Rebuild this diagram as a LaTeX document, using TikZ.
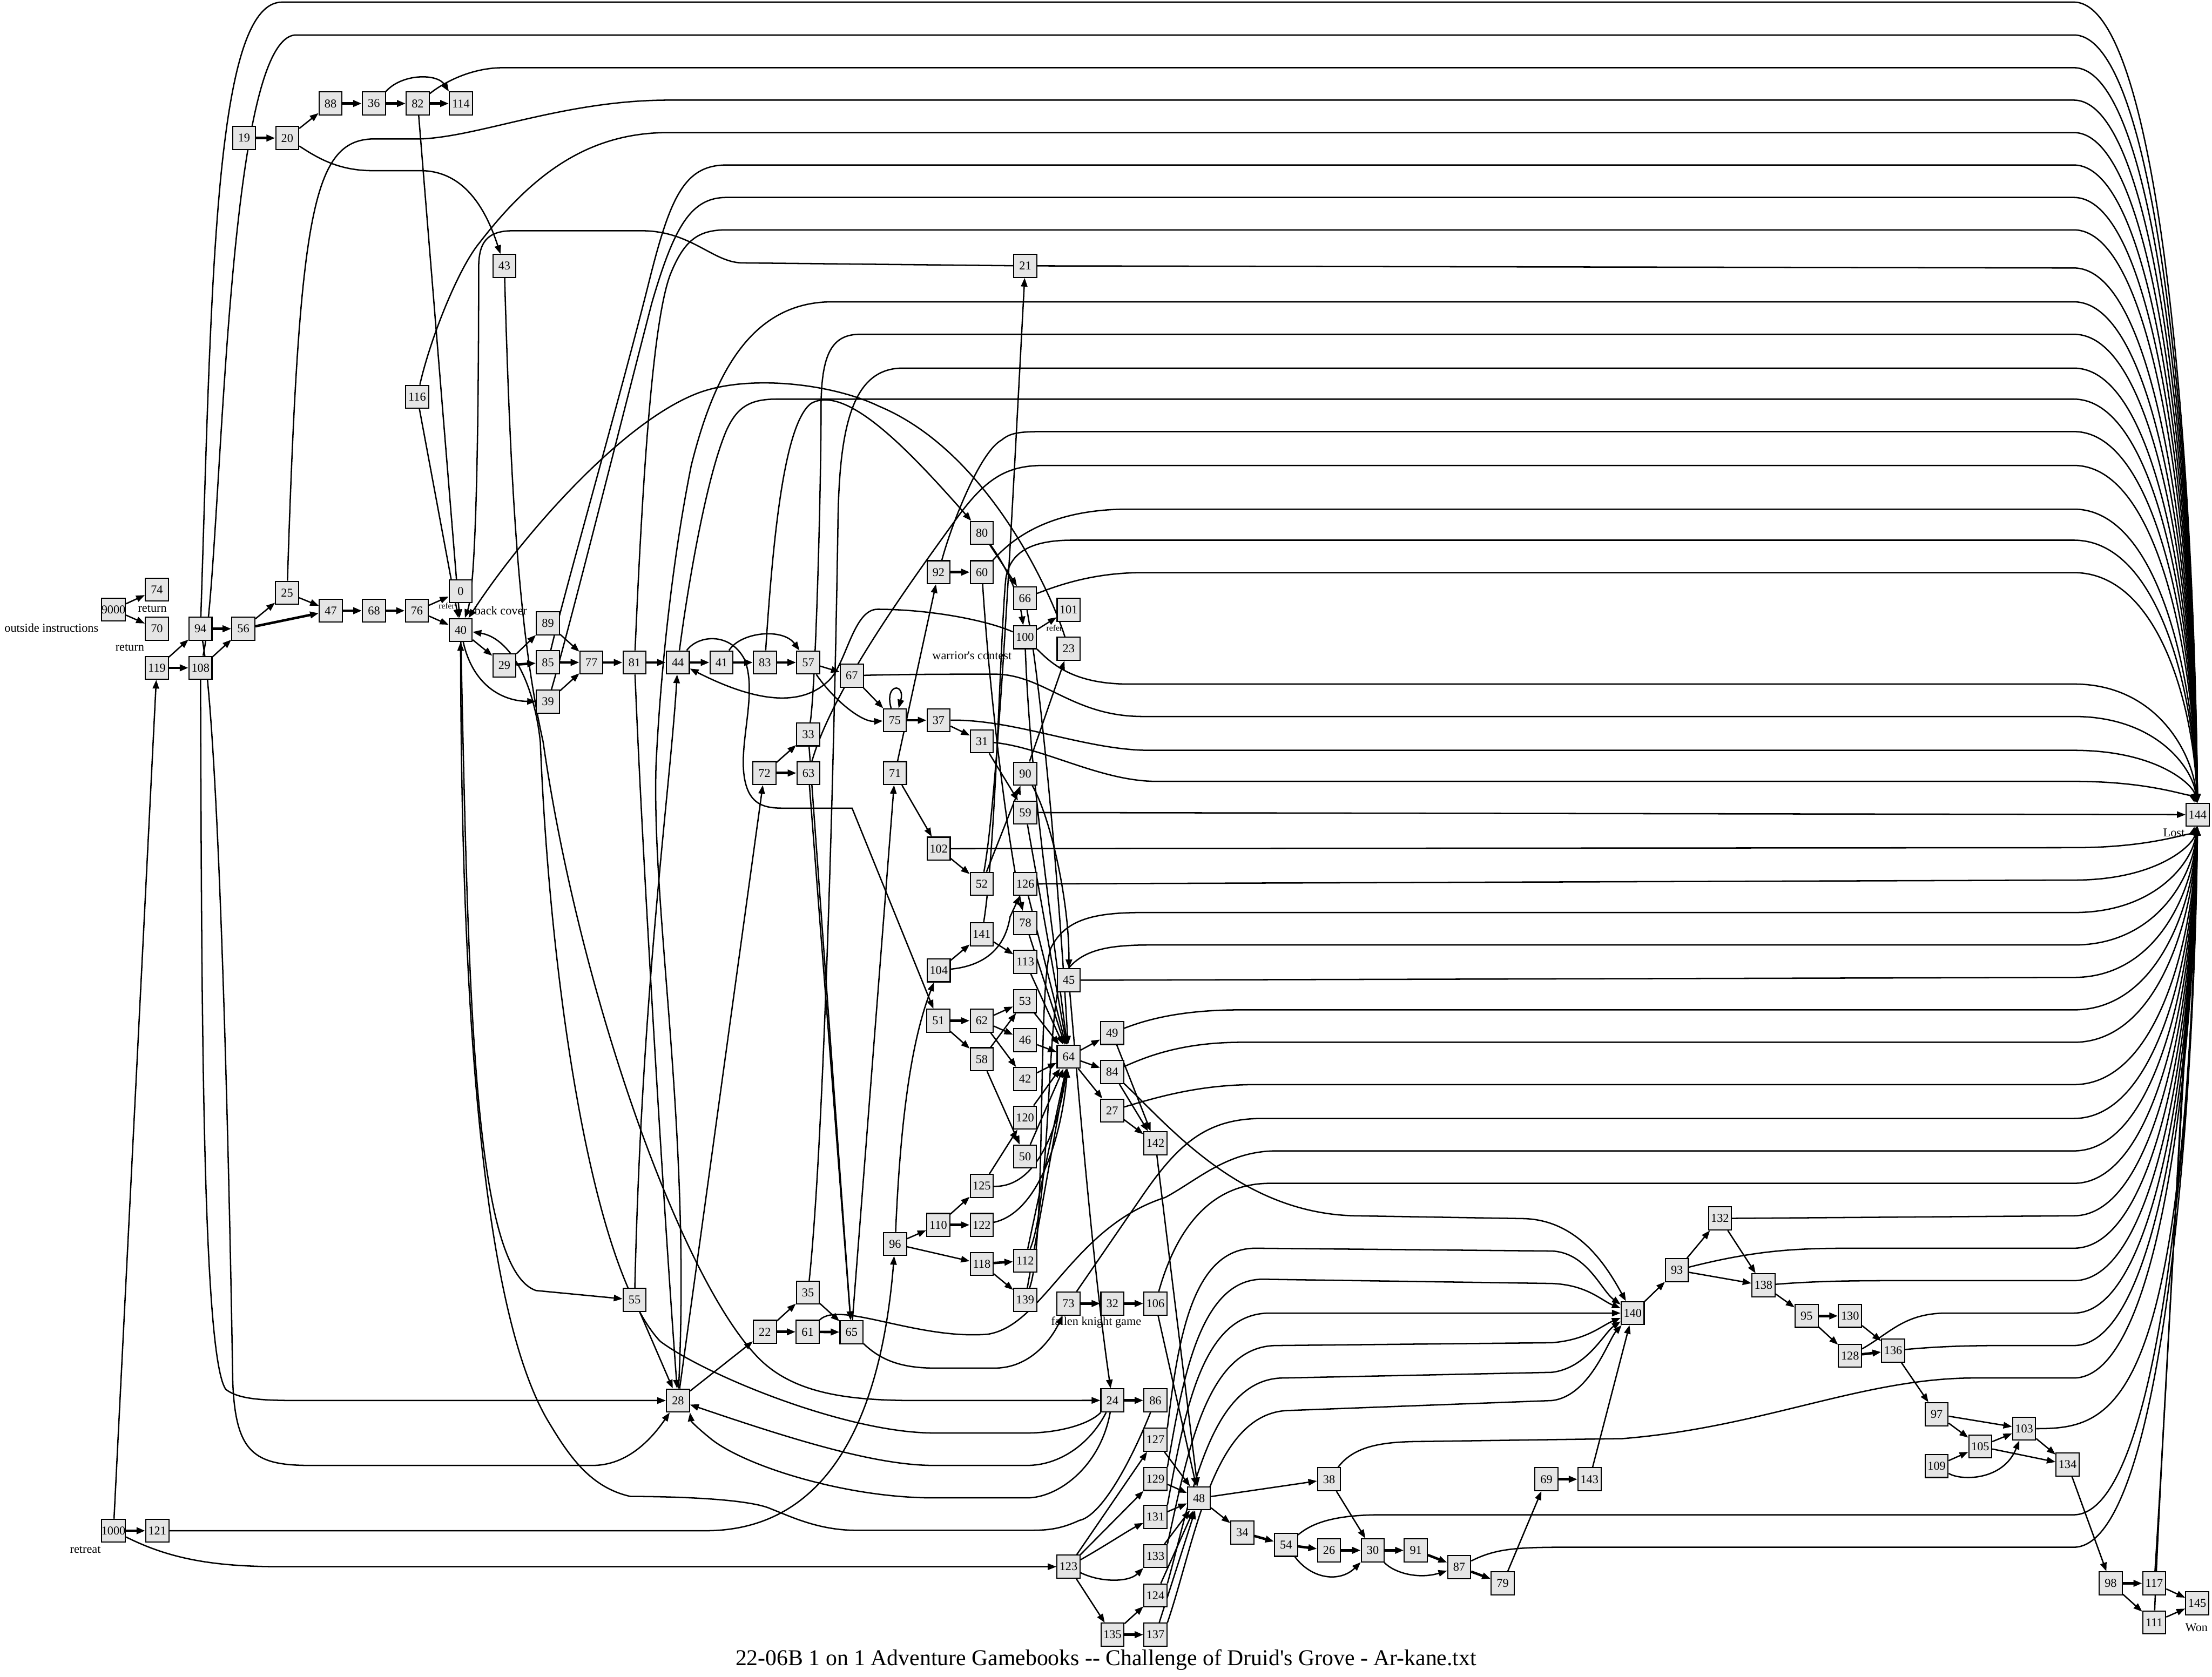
\documentclass[tikz,border=0pt]{standalone}
\usepackage{fontspec}
\newfontfamily\gvfont{Liberation Serif}
\usetikzlibrary{arrows.meta}
\definecolor{boxfill}{HTML}{E5E5E5}
\pgfdeclarelayer{paper}
\pgfdeclarelayer{wires}
\pgfsetlayers{paper,wires,main}
% edge into the Lost node: #1 = start of the path up to the track, #2 = track height
\newcommand{\lost}[2]{\draw[link] #1 -- (1470,#2) .. controls (1530,#2) and (1555,{0.45*#2+317.7}) .. (n144);}

\begin{document}
\begin{tikzpicture}[x=0.02cm, y=-0.02cm,
  box/.style={draw=black, line width=0.45pt, fill=boxfill, minimum width=0.326cm,
    minimum height=0.326cm, inner sep=0pt, font=\gvfont\fontsize{4.85}{5.5}\selectfont},
  link/.style={-{Triangle[length=3.5pt,width=2.6pt]}, line width=0.55pt},
  heavy/.style={line width=1pt},
  xtext/.style={font=\gvfont\fontsize{4.85}{5.5}\selectfont, inner sep=0pt},
  xsmall/.style={font=\gvfont\fontsize{3.4}{4}\selectfont, inner sep=0pt},
  titletext/.style={font=\gvfont\fontsize{9.1}{11}\selectfont, inner sep=0pt}]
\begin{pgfonlayer}{paper}
  \fill[white] (0,0) rectangle (1568,1189);
\end{pgfonlayer}
\useasboundingbox (0,0) rectangle (1568,1189);

% nodes
\node[box] (n9000) at (80.4,432.2) {9000};
\node[box] (n1000) at (80.4,1085.3) {1000};
\node[box] (n74) at (111.2,418) {74};
\node[box] (n70) at (111.2,445.8) {70};
\node[box] (n119) at (111.2,473.5) {119};
\node[box] (n121) at (111.5,1085.3) {121};
\node[box] (n94) at (142.1,445.8) {94};
\node[box] (n108) at (142.1,473.5) {108};
\node[box] (n19) at (173,97.9) {19};
\node[box] (n56) at (172.5,445.8) {56};
\node[box] (n20) at (203.6,97.9) {20};
\node[box] (n25) at (203.5,420.3) {25};
\node[box] (n88) at (234.3,73.4) {88};
\node[box] (n47) at (234.5,433) {47};
\node[box] (n36) at (265,73.4) {36};
\node[box] (n68) at (265.1,433) {68};
\node[box] (n82) at (296.1,73.4) {82};
\node[box] (n116) at (295.7,281.3) {116};
\node[box] (n76) at (295.5,433) {76};
\node[box] (n114) at (326.7,73.4) {114};
\node[box] (n0) at (326.5,419.2) {0};
\node[box] (n40) at (326.5,446.7) {40};
\node[box] (n43) at (357.5,188.6) {43};
\node[box] (n29) at (357.5,471.8) {29};
\node[box] (n89) at (388.4,442) {89};
\node[box] (n85) at (388.4,469.6) {85};
\node[box] (n39) at (388.4,497.5) {39};
\node[box] (n77) at (419.2,469.7) {77};
\node[box] (n81) at (449.8,469.7) {81};
\node[box] (n55) at (449.8,921.7) {55};
\node[box] (n44) at (480.5,469.7) {44};
\node[box] (n28) at (480.6,993) {28};
\node[box] (n41) at (511.4,469.7) {41};
\node[box] (n83) at (542.2,469.7) {83};
\node[box] (n72) at (541.9,548.1) {72};
\node[box] (n22) at (542.2,944.3) {22};
\node[box] (n57) at (572.9,469.7) {57};
\node[box] (n33) at (572.9,520.7) {33};
\node[box] (n63) at (573.1,548.1) {63};
\node[box] (n35) at (572.7,916.5) {35};
\node[box] (n61) at (572.5,944.3) {61};
\node[box] (n67) at (603.8,479.1) {67};
\node[box] (n65) at (603.6,944.5) {65};
\node[box] (n75) at (634.3,510.7) {75};
\node[box] (n71) at (634.4,548.1) {71};
\node[box] (n96) at (634.5,882) {96};
\node[box] (n92) at (665.3,405.7) {92};
\node[box] (n37) at (665.3,510.7) {37};
\node[box] (n102) at (665.4,601.7) {102};
\node[box] (n104) at (665.4,688) {104};
\node[box] (n51) at (665.1,723.7) {51};
\node[box] (n110) at (665.1,868.5) {110};
\node[box] (n80) at (696,377.8) {80};
\node[box] (n60) at (696,405.7) {60};
\node[box] (n31) at (696,525.6) {31};
\node[box] (n52) at (695.9,626.7) {52};
\node[box] (n141) at (695.9,662.5) {141};
\node[box] (n62) at (695.9,723.7) {62};
\node[box] (n58) at (695.9,751) {58};
\node[box] (n125) at (695.9,840.9) {125};
\node[box] (n122) at (695.9,868.5) {122};
\node[box] (n118) at (695.9,896.1) {118};
\node[box] (n21) at (726.8,188.5) {21};
\node[box] (n66) at (726.5,424.1) {66};
\node[box] (n100) at (726.5,451.8) {100};
\node[box] (n90) at (726.8,548.5) {90};
\node[box] (n59) at (726.8,576.1) {59};
\node[box] (n126) at (726.8,626.7) {126};
\node[box] (n78) at (726.8,654.4) {78};
\node[box] (n113) at (726.8,682) {113};
\node[box] (n53) at (726.6,709.8) {53};
\node[box] (n46) at (726.6,737.4) {46};
\node[box] (n42) at (726.6,765) {42};
\node[box] (n120) at (726.6,792.4) {120};
\node[box] (n50) at (726.6,820) {50};
\node[box] (n112) at (726.7,893.9) {112};
\node[box] (n139) at (726.7,921.6) {139};
\node[box] (n101) at (757.5,432.3) {101};
\node[box] (n23) at (757.5,460) {23};
\node[box] (n45) at (757.6,695) {45};
\node[box] (n64) at (757.5,749.2) {64};
\node[box] (n73) at (757.3,924.2) {73};
\node[box] (n123) at (757.4,1110.8) {123};
\node[box] (n49) at (788.3,732.4) {49};
\node[box] (n84) at (788.3,760.1) {84};
\node[box] (n27) at (788.3,787.4) {27};
\node[box] (n32) at (788.5,924.2) {32};
\node[box] (n24) at (788.5,992.9) {24};
\node[box] (n135) at (788.6,1159) {135};
\node[box] (n142) at (819,810.6) {142};
\node[box] (n106) at (819,924.2) {106};
\node[box] (n86) at (819,992.9) {86};
\node[box] (n127) at (819,1020.8) {127};
\node[box] (n129) at (819,1048.6) {129};
\node[box] (n131) at (819,1075.5) {131};
\node[box] (n133) at (819,1103.3) {133};
\node[box] (n124) at (819,1131.2) {124};
\node[box] (n137) at (819,1159) {137};
\node[box] (n48) at (849.9,1062.3) {48};
\node[box] (n34) at (880.6,1086.6) {34};
\node[box] (n54) at (911.6,1095.3) {54};
\node[box] (n38) at (942.1,1048.8) {38};
\node[box] (n26) at (942.1,1099.2) {26};
\node[box] (n30) at (973.1,1099.2) {30};
\node[box] (n91) at (1003.6,1099.2) {91};
\node[box] (n87) at (1034.3,1111.1) {87};
\node[box] (n79) at (1065.2,1122.6) {79};
\node[box] (n69) at (1096.2,1048.8) {69};
\node[box] (n143) at (1126.7,1048.8) {143};
\node[box] (n140) at (1157.3,931) {140};
\node[box] (n93) at (1188.7,900.6) {93};
\node[box] (n132) at (1219.2,863.9) {132};
\node[box] (n138) at (1250,911.3) {138};
\node[box] (n95) at (1280.6,933) {95};
\node[box] (n130) at (1311.4,933) {130};
\node[box] (n128) at (1311.4,961.2) {128};
\node[box] (n136) at (1342,957.6) {136};
\node[box] (n97) at (1372.8,1002.7) {97};
\node[box] (n109) at (1372.8,1039.4) {109};
\node[box] (n105) at (1403.7,1025.6) {105};
\node[box] (n103) at (1434.8,1012.9) {103};
\node[box] (n134) at (1465.6,1038.3) {134};
\node[box] (n98) at (1496.2,1122.6) {98};
\node[box] (n117) at (1527,1122.6) {117};
\node[box] (n111) at (1527,1150.3) {111};
\node[box] (n144) at (1557.8,577.6) {144};
\node[box] (n145) at (1557.5,1136.7) {145};

% texts
\node[xtext] (toutside) at (36.5,445) {outside instructions};
\node[xtext] (treturna) at (108,431.5) {return};
\node[xtext] (treturnb) at (92,459) {return};
\node[xsmall] (trefera) at (316.6,429.4) {refer};
\node[xtext] (tback) at (355,433) {back cover};
\node[xtext] (twarrior) at (689,464.7) {warrior's contest};
\node[xsmall] (treferb) at (747.4,445.2) {refer};
\node[xtext] (tfallen) at (777,937.4) {fallen knight game};
\node[xtext] (tlost) at (1541,590.4) {Lost};
\node[xtext] (twon) at (1557,1154) {Won};
\node[xtext] (tretreat) at (60.5,1098.7) {retreat};
\node[titletext] (ttitle) at (784,1177) {22-06B 1 on 1 Adventure Gamebooks -- Challenge of Druid's Grove - Ar-kane.txt};

\begin{pgfonlayer}{wires}
% left part
\draw[link] (n9000) -- (n74);
\draw[link] (n9000) -- (n70);
\draw[link] (n1000) -- (n119);
\draw[link,heavy] (n1000) -- (n121);
\draw[link] (n1000) .. controls (120,1105) and (150,1110.8) .. (200,1110.8) -- (n123);
\draw[link] (n121) -- (500,1085.3) .. controls (590,1085.3) and (625,1000) .. (n96);
\draw[link] (n119) -- (n94);
\draw[link,heavy] (n119) -- (n108);
\draw[link,heavy] (n94) -- (n56);
\draw[link] (n108) -- (n56);
\draw[link] (n94) .. controls (155,520) and (162,800) .. (165,980) .. controls (167,1030) and (180,1039) .. (220,1039) -- (420,1039) .. controls (445,1039) and (462,1020) .. (n28);
\draw[link] (n108) .. controls (143,700) and (143,960) .. (160,985) .. controls (170,993) and (190,993) .. (220,993) -- (n28);
\draw[link,heavy] (n19) -- (n20);
\draw[link] (n20) -- (n88);
\draw[link] (n20) .. controls (225,112) and (240,121) .. (264,121) -- (298,121) .. controls (330,121) and (345,150) .. (n43);
\draw[link,heavy] (n88) -- (n36);
\draw[link,heavy] (n36) -- (n82);
\draw[link,heavy] (n82) -- (n114);
\draw[link] (n36.north east) .. controls (285,52) and (310,52) .. (n114.north west);
\draw[link] (n82) -- (n40);
\draw[link] (n116) -- (n40);
\draw[link] (n56) -- (n25);
\draw[link,heavy] (n56) -- (n47);
\draw[link] (n25) -- (n47);
\draw[link,heavy] (n47) -- (n68);
\draw[link,heavy] (n68) -- (n76);
\draw[link] (n76) -- (n0);
\draw[link] (n76) -- (n40);
\draw[link] (n40) -- (n29);
\draw[link] (n40) .. controls (335,485) and (355,497) .. (n39);
\draw[link] (n29) -- (n89);
\draw[link,heavy] (n29) -- (n85);
\draw[link] (n89) -- (n77);
\draw[link,heavy] (n85) -- (n77);
\draw[link] (n39) -- (n77);
\draw[link,heavy] (n77) -- (n81);
\draw[link,heavy] (n81) -- (n44);
\draw[link,heavy] (n44) -- (n41);
\draw[link,heavy] (n41) -- (n83);
\draw[link,heavy] (n83) -- (n57);
\draw[link] (n41) .. controls (525,448) and (555,445) .. (n57);
\draw[link] (n44) .. controls (495,450) and (518,448) .. (528,468) .. controls (538,495) and (520,535) .. (530,560) .. controls (535,572) and (545,573) .. (556,573) -- (604,573) -- (n51);
\draw[link] (n100) .. controls (700,440) and (660,432) .. (622,432) .. controls (605,432) and (600,470) .. (588,482) .. controls (570,500) and (540,500) .. (n44);
\draw[link] (n83) .. controls (548,380) and (556,300) .. (575,286) .. controls (600,272) and (645,320) .. (n80);
\draw[link] (n21) -- (526,186.4) .. controls (505,186) and (490,163.6) .. (454.6,163.6) -- (363.7,163.6) .. controls (345,163.6) and (339.3,172) .. (339.3,190) .. controls (339.3,350) and (336,420) .. (n40);
\draw[link] (n40) .. controls (332,700) and (335,900) .. (380,915) -- (n55);
\draw[link] (n55) .. controls (455,700) and (475,560) .. (n44);
\draw[link] (n55) -- (n28);
\draw[link] (n81) .. controls (455,600) and (470,850) .. (n28);
\draw[link] (n23) .. controls (745,420) and (700,320) .. (623,288) .. controls (590,272) and (530,265) .. (494,279) .. controls (440,300) and (370,380) .. (n40);
\draw[link] (n43) .. controls (362,350) and (368,450) .. (385,526) .. controls (410,700) and (480,900) .. (535,960) .. controls (560,988) and (600,993) .. (650,993) -- (n24);
\draw[link] (n24) .. controls (772,1010) and (750,1016) .. (728,1016) -- (662,1016) .. controls (600,1016) and (500,975) .. (468,951) .. controls (420,900) and (390,700) .. (383,526) .. controls (378,480) and (360,452) .. (n40);
\draw[link] (n24) .. controls (772,1025) and (750,1039) .. (728,1039) -- (662,1039) .. controls (620,1039) and (560,1020) .. (n28);
\draw[link] (n24) .. controls (780,1040) and (750,1062) .. (728,1062) -- (662,1062) .. controls (600,1062) and (530,1040) .. (505,1021) .. controls (495,1013) and (490,1008) .. (n28.south east);
\draw[link] (n86) .. controls (800,1040) and (780,1075) .. (765,1078) .. controls (750,1085) and (740,1085) .. (728,1085) -- (607,1085) .. controls (580,1085) and (560,1075) .. (547,1070) .. controls (530,1062) and (470,1061) .. (447,1061) .. controls (420,1055) and (405,1035) .. (390,1010) .. controls (340,930) and (327,700) .. (n40);

% middle part
\draw[link] (n57) -- (n67);
\draw[link] (n57) .. controls (590,495) and (610,512) .. (n75);
\draw[link] (n67) -- (n75);
\draw[link] ([xshift=-1.5pt]n75.north) .. controls +(-5,-18) and +(5,-18) .. ([xshift=1.5pt]n75.north);
\draw[link,heavy] (n75) -- (n37);
\draw[link] (n37) -- (n31);
\draw[link] (n31) -- (n59);
\draw[link,heavy] (n92) -- (n60);
\draw[link] (n71) -- (n92);
\draw[link] (n71) -- (n102);
\draw[link] (n102) -- (n52);
\draw[link] (n52) -- (n90);
\draw[link] (n52) .. controls (708,560) and (718,350) .. (n21);
\draw[link] (n90) -- (n23);
\draw[link] (n90) .. controls (745,580) and (758,640) .. (n45);
\draw[link] (n80) -- (n66);
\draw[link] (n80) .. controls (712,400) and (722,420) .. (n100);
\draw[link] (n100) -- (n101);
\draw[link] (n60) .. controls (702,500) and (715,600) .. (n78);
\draw[link] (n104) -- (n141);
\draw[link] (n104) .. controls (695,685) and (712,675) .. (716,650) -- (n126);
\draw[link] (n141) -- (n113);
\draw[link] (n96) .. controls (638,800) and (645,740) .. (n104);
\draw[link] (n96) -- (n110);
\draw[link] (n96) -- (n118);
\draw[link] (n110) -- (n125);
\draw[link,heavy] (n110) -- (n122);
\draw[link,heavy] (n118) -- (n112);
\draw[link] (n118) -- (n139);
\draw[link] (n72) -- (n33);
\draw[link,heavy] (n72) -- (n63);
\draw[link] (n28) -- (n72);
\draw[link] (n28) -- (n22);
\draw[link] (n22) -- (n35);
\draw[link,heavy] (n22) -- (n61);
\draw[link,heavy] (n61) -- (n65);
\draw[link] (n35) -- (n65);
\draw[link] (n63) -- (n65);
\draw[link] (n33) -- (n65);
\draw[link] (n65) -- (n71);
\draw[link] (n65) .. controls (625,965) and (640,970) .. (663,970) -- (705,970) .. controls (730,970) and (745,950) .. (n73);
\draw[link,heavy] (n51) -- (n62);
\draw[link] (n51) -- (n58);
\draw[link] (n62) -- (n53);
\draw[link] (n62) -- (n46);
\draw[link] (n62) -- (n42);
\draw[link] (n58) -- (n53);
\draw[link] (n58) -- (n50);
\foreach \s in {53,46,42,120,50,78,113,112,139,59,126}
  \draw[link] (n\s) -- (n64);
\draw[link] (n100) .. controls (730,550) and (745,650) .. (n64);
\draw[link] (n66) .. controls (740,500) and (752,650) .. (n64);
\draw[link] (n125) -- (n120);
\draw[link] (n125) .. controls (735,842) and (750,800) .. (n64);
\draw[link] (n122) .. controls (735,860) and (752,810) .. (n64);
\draw[link] (n64) -- (n49);
\draw[link] (n64) -- (n84);
\draw[link] (n64) -- (n27);
\draw[link] (n49) -- (n142);
\draw[link] (n84) -- (n142);
\draw[link] (n27) -- (n142);
\draw[link] (n45) .. controls (765,780) and (775,900) .. (n24);
\draw[link] (n142) -- (n48);
\draw[link] (n106) -- (n48);
\draw[link,heavy] (n24) -- (n86);
\draw[link,heavy] (n73) -- (n32);
\draw[link,heavy] (n32) -- (n106);

% bottom part
\draw[link] (n123) -- (n127);
\draw[link] (n123) -- (n129);
\draw[link] (n123) .. controls (785,1095) and (800,1085) .. (n131);
\draw[link] (n123) .. controls (780,1122) and (800,1122) .. (n133);
\draw[link] (n123) -- (n135);
\draw[link] (n135) -- (n124);
\draw[link,heavy] (n135) -- (n137);
\foreach \s in {127,129,131,133,124,137}
  \draw[link] (n\s) -- (n48);
\draw[link] (n84) .. controls (830,800) and (880,860) .. (960,862) -- (1080,864) .. controls (1120,865) and (1140,900) .. (n140);
\draw[link] (n127.north east) .. controls (835,950) and (845,885) .. (890,885) -- (1100,887) .. controls (1125,888) and (1135,915) .. (n140);
\draw[link] (n129.north east) .. controls (838,980) and (850,907) .. (895,907) -- (1100,910) .. controls (1125,911) and (1135,922) .. (n140);
\draw[link] (n131.north east) .. controls (840,1000) and (852,931) .. (900,931) -- (n140);
\draw[link] (n133.north east) .. controls (842,1030) and (855,954) .. (905,954) -- (1100,952) .. controls (1125,950) and (1135,940) .. (n140);
\draw[link] (n124.north east) .. controls (845,1060) and (858,977) .. (910,977) -- (1100,973) .. controls (1125,970) and (1137,945) .. (n140);
\draw[link] (n137.north east) .. controls (848,1090) and (860,1000) .. (915,1000) -- (1100,993) .. controls (1127,990) and (1140,950) .. (n140);
\draw[link] (n48) -- (n38);
\draw[link] (n48) -- (n34);
\draw[link] (n38) -- (n30);
\draw[link,heavy] (n34) -- (n54);
\draw[link,heavy] (n54) -- (n26);
\draw[link] (n54) .. controls (930,1120) and (950,1122) .. (n30);
\draw[link,heavy] (n26) -- (n30);
\draw[link,heavy] (n30) -- (n91);
\draw[link] (n30) .. controls (988,1115) and (1005,1120) .. (n87);
\draw[link,heavy] (n91) -- (n87);
\draw[link,heavy] (n87) -- (n79);
\draw[link] (n79) -- (n69);
\draw[link,heavy] (n69) -- (n143);
\draw[link] (n143) -- (n140);
\draw[link] (n140) -- (n93);
\draw[link] (n93) -- (n132);
\draw[link] (n93) -- (n138);
\draw[link] (n132) -- (n138);
\draw[link] (n138) -- (n95);
\draw[link,heavy] (n95) -- (n130);
\draw[link] (n95) -- (n128);
\draw[link] (n130) -- (n136);
\draw[link,heavy] (n128) -- (n136);
\draw[link] (n136) -- (n97);
\draw[link] (n97) -- (n103);
\draw[link] (n97) -- (n105);
\draw[link] (n109) -- (n105);
\draw[link] (n109) .. controls (1390,1050) and (1420,1050) .. (n103);
\draw[link] (n105) -- (n103);
\draw[link] (n105) -- (n134);
\draw[link] (n103) -- (n134);
\draw[link] (n134) -- (n98);
\draw[link,heavy] (n98) -- (n117);
\draw[link] (n98) -- (n111);
\draw[link] (n117) -- (n145);
\draw[link] (n111) -- (n145);

% edges into Lost
\lost{(n94) .. controls (150,200) and (152,1.5) .. (200,1.5)}{1.5}
\lost{(n108) .. controls (158,400) and (158,24.8) .. (210,24.8)}{24.8}
\lost{(n82) .. controls (310,62) and (330,48) .. (357,48)}{48}
\lost{(n25) .. controls (212,150) and (222,100) .. (264,98.5) -- (298,98.5) .. controls (340,97) and (400,71) .. (474,71)}{71}
\lost{(n116) .. controls (305,240) and (325,190) .. (340,172) .. controls (380,120) and (420,94) .. (474,94)}{94}
\lost{(n85) .. controls (400,420) and (440,280) .. (460,200) .. controls (475,140) and (485,117) .. (515,117)}{117}
\lost{(n39) .. controls (405,440) and (440,300) .. (462,215) .. controls (478,160) and (490,140) .. (515,140)}{140}
\lost{(n81) .. controls (455,350) and (462,230) .. (475,195) .. controls (485,170) and (495,163) .. (515,163)}{163}
\lost{(n21)}{190}
\lost{(n28) .. controls (490,800) and (462,650) .. (465,543) .. controls (468,480) and (476,400) .. (490,330) .. controls (505,270) and (530,214) .. (590,214)}{214}
\lost{(n33) .. controls (578,490) and (582,350) .. (582,290) .. controls (582,250) and (590,237) .. (610,237)}{237}
\lost{(n35) .. controls (585,800) and (592,500) .. (594,370) .. controls (595,300) and (605,261) .. (640,261)}{261}
\lost{(n44) .. controls (487,420) and (500,340) .. (515,305) .. controls (522,290) and (530,283) .. (550,283)}{283}
\lost{(n92) .. controls (675,370) and (695,320) .. (710,312) .. controls (716,307) and (722,306) .. (740,306)}{306}
\lost{(n63) .. controls (590,490) and (640,420) .. (680,365) .. controls (700,338) and (715,330) .. (740,330)}{330}
\lost{(n60) .. controls (715,385) and (740,361) .. (800,361)}{361}
\lost{(n141) .. controls (706,600) and (709,450) .. (713,410) .. controls (716,392) and (730,383) .. (760,383)}{383}
\lost{(n66) .. controls (750,415) and (775,406) .. (810,406)}{406}
\lost{(n100) .. controls (745,470) and (760,485) .. (800,485)}{485}
\lost{(n67) .. controls (640,478) and (680,478) .. (705,478) .. controls (740,478) and (760,508) .. (810,508)}{508}
\lost{(n37) .. controls (720,510) and (770,532) .. (815,532)}{532}
\lost{(n31) .. controls (740,530) and (780,554) .. (820,554)}{554}
\draw[link] (n59) -- (n144);
\lost{(n102)}{601}
\lost{(n126)}{624}
\lost{(n139) .. controls (742,880) and (735,700) .. (745,672) .. controls (755,652) and (775,647) .. (810,647)}{647}
\lost{(n112) .. controls (745,850) and (742,720) .. (752,695) .. controls (762,675) and (780,670) .. (815,670)}{670}
\lost{(n45)}{693}
\lost{(n49) .. controls (815,722) and (840,716) .. (880,716)}{716}
\lost{(n84) .. controls (815,748) and (840,739) .. (880,739)}{739}
\lost{(n27) .. controls (820,778) and (850,769) .. (890,769)}{769}
\lost{(n73) -- (809,849) .. controls (835,811) and (855,793) .. (895,793)}{793}
\lost{(n61) .. controls (595,922) and (650,950) .. (700,946) .. controls (740,940) and (760,870) .. (826,849) .. controls (850,836) and (870,816) .. (905,816)}{816}
\lost{(n106) .. controls (830,885) and (850,839) .. (900,839)}{839}
\lost{(n132)}{862}
\lost{(n93) .. controls (1250,885) and (1280,885) .. (1320,885)}{885}
\lost{(n138) .. controls (1290,908) and (1320,908) .. (1350,908)}{908}
\lost{(n128) .. controls (1340,945) and (1350,931) .. (1380,931)}{931}
\lost{(n136) .. controls (1370,955) and (1390,954) .. (1420,954)}{954}
\lost{(n38) .. controls (960,1025) and (980,1022) .. (1010,1022) -- (1150,1020) .. controls (1250,1012) and (1320,977) .. (1400,977)}{977}
\draw[link] (n103) .. controls (1500,1013) and (1550,1000) .. (n144);
\lost{(n54) .. controls (930,1080) and (945,1074) .. (980,1074)}{1074}
\lost{(n87) .. controls (1060,1098) and (1075,1097) .. (1110,1097)}{1097}
\draw[link] (n117) .. controls (1535,1000) and (1550,700) .. (n144);
\draw[link] (n111) .. controls (1533,1000) and (1552,700) .. (n144);
\end{pgfonlayer}
\end{tikzpicture}
\end{document}
